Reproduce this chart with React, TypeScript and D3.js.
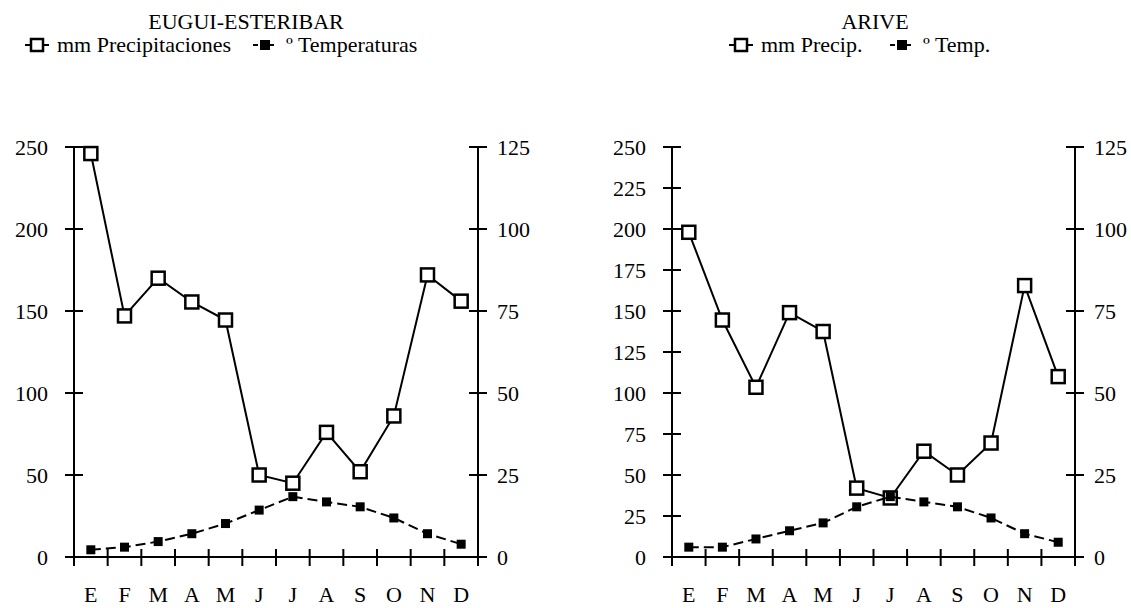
import { useMemo } from 'react';
import * as d3 from 'd3';

const months = ['E', 'F', 'M', 'A', 'M', 'J', 'J', 'A', 'S', 'O', 'N', 'D'];

const euguiPrecip = [246, 147, 170, 155.5, 144.5, 50, 45, 76, 52, 86, 172, 156];
const euguiTemp = [2.2, 3.0, 4.7, 7.1, 10.2, 14.3, 18.4, 16.8, 15.3, 11.9, 7.1, 3.9];

const arivePrecip = [198, 144.5, 103.5, 149, 137.5, 42, 36, 64.5, 50, 69.5, 165.5, 110];
const ariveTemp = [3.0, 3.0, 5.5, 8.0, 10.4, 15.3, 18.4, 16.8, 15.3, 11.9, 7.1, 4.5];

const euguiLeftTicks = [0, 50, 100, 150, 200, 250];
const ariveLeftTicks = [0, 25, 50, 75, 100, 125, 150, 175, 200, 225, 250];
const rightTicks = [0, 25, 50, 75, 100, 125];

const FONT = '"Liberation Serif", "Times New Roman", serif';
const FS = 22;

interface PanelProps {
  title: string;
  titleX: number;
  precipLabel: string;
  tempLabel: string;
  legendX: [number, number];
  left: number;
  right: number;
  precip: number[];
  temp: number[];
  leftTicks: number[];
}

function Panel({ title, titleX, precipLabel, tempLabel, legendX, left, right, precip, temp, leftTicks }: PanelProps) {
  const top = 147;
  const bottom = 557;

  const x = useMemo(() => d3.scaleBand<number>().domain(d3.range(12)).range([left, right]).padding(0), [left, right]);
  const yL = d3.scaleLinear().domain([0, 250]).range([bottom, top]);
  const yR = d3.scaleLinear().domain([0, 125]).range([bottom, top]);
  const cx = (i: number) => (x(i) as number) + x.bandwidth() / 2;

  const precipLine = d3.line<number>().x((_, i) => cx(i)).y(d => yL(d))(precip) || '';
  const tempLine = d3.line<number>().x((_, i) => cx(i)).y(d => yR(d))(temp) || '';

  const sq = 13;
  const fsq = 9;
  const legY = 45;
  const [lx1, lx2] = legendX;

  return (
    <g fontFamily={FONT} fontSize={FS} fill="#000">
      <text x={titleX} y={29} textAnchor="middle">{title}</text>

      {/* legend */}
      <line x1={lx1 - 12} x2={lx1 + 12} y1={legY} y2={legY} stroke="#000" strokeWidth={2} />
      <rect x={lx1 - 6} y={legY - 6} width={12} height={12} fill="#fff" stroke="#000" strokeWidth={2.5} />
      <text x={lx1 + 20} y={legY + 7}>{precipLabel}</text>
      <line x1={lx2 - 12} x2={lx2 + 12} y1={legY} y2={legY} stroke="#000" strokeWidth={2} strokeDasharray="5,3" />
      <rect x={lx2 - 5} y={legY - 5} width={10} height={10} fill="#000" />
      <text x={lx2 + 21} y={legY + 7}>{tempLabel}</text>

      {/* axes */}
      <g stroke="#000" strokeWidth={2}>
        <line x1={left} x2={left} y1={top} y2={bottom + 9} />
        <line x1={right} x2={right} y1={top} y2={bottom + 9} />
        <line x1={left - 9} x2={right + 9} y1={bottom} y2={bottom} />
        {leftTicks.map(t => (
          <line key={'l' + t} x1={left - 9} x2={left + 9} y1={yL(t)} y2={yL(t)} />
        ))}
        {rightTicks.map(t => (
          <line key={'r' + t} x1={right - 9} x2={right + 9} y1={yR(t)} y2={yR(t)} />
        ))}
        {d3.range(1, 12).map(i => (
          <line key={'x' + i} x1={x(i) as number} x2={x(i) as number} y1={bottom - 8} y2={bottom + 9} />
        ))}
      </g>
      {leftTicks.map(t => (
        <text key={'lt' + t} x={left - 26} y={yL(t)} dy="0.35em" textAnchor="end">{t}</text>
      ))}
      {rightTicks.map(t => (
        <text key={'rt' + t} x={right + 19} y={yR(t)} dy="0.35em">{t}</text>
      ))}
      {months.map((m, i) => (
        <text key={'m' + i} x={cx(i)} y={602} textAnchor="middle">{m}</text>
      ))}

      {/* precipitation */}
      <path d={precipLine} fill="none" stroke="#000" strokeWidth={2} />
      {precip.map((d, i) => (
        <rect key={'p' + i} x={cx(i) - sq / 2} y={yL(d) - sq / 2} width={sq} height={sq} fill="#fff" stroke="#000" strokeWidth={2.5} />
      ))}

      {/* temperature */}
      <path d={tempLine} fill="none" stroke="#000" strokeWidth={2} strokeDasharray="10,5" />
      {temp.map((d, i) => (
        <rect key={'t' + i} x={cx(i) - fsq / 2} y={yR(d) - fsq / 2} width={fsq} height={fsq} fill="#000" />
      ))}
    </g>
  );
}

export default function App() {
  return (
    <svg width={1131} height={608} style={{ position: 'absolute', left: 0, top: 0, background: '#fff' }}>
      <rect width={1131} height={608} fill="#fff" />
      <Panel
        title="EUGUI-ESTERIBAR"
        titleX={246}
        precipLabel="mm Precipitaciones"
        tempLabel="º Temperaturas"
        legendX={[37, 265]}
        left={74}
        right={478}
        precip={euguiPrecip}
        temp={euguiTemp}
        leftTicks={euguiLeftTicks}
      />
      <Panel
        title="ARIVE"
        titleX={875}
        precipLabel="mm Precip."
        tempLabel="º Temp."
        legendX={[741, 902]}
        left={672}
        right={1075}
        precip={arivePrecip}
        temp={ariveTemp}
        leftTicks={ariveLeftTicks}
      />
    </svg>
  );
}
